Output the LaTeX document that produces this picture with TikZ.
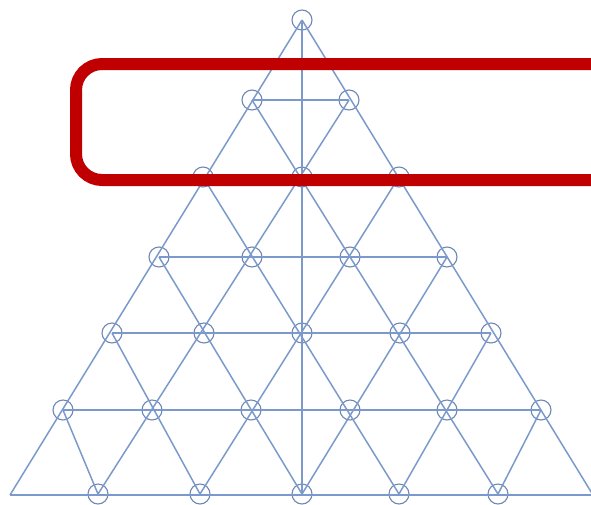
\documentclass[tikz,border=0pt]{standalone}
\usetikzlibrary{positioning}
\definecolor{bondcol}{HTML}{7B9ACB}
\definecolor{sitecol}{HTML}{6E87B5}
\definecolor{markcol}{HTML}{C00000}

\begin{document}
\begin{tikzpicture}[
    x=1pt, y=-1pt,
    site/.style={
        draw=sitecol,
        circle,
        line width=1.1pt,
        minimum size=20pt,
        inner sep=0pt
    },
    bond/.style={draw=bondcol, line width=1.5pt},
    highlight/.style={draw=markcol, line width=12pt, rounded corners=26pt}
]
\useasboundingbox (0,0) rectangle (591,504);
\clip (0,0) rectangle (591,504);

% lattice sites, row by row
\node[site] (n0-0) at (302,20) {};
\node[site] (n1-0) at (252,100) {}; \node[site] (n1-1) at (349,100) {};
\node[site] (n2-0) at (203,177) {}; \node[site] (n2-1) at (302,177) {}; \node[site] (n2-2) at (399,177) {};
\node[site] (n3-0) at (159,257) {}; \node[site] (n3-1) at (252,257) {}; \node[site] (n3-2) at (350,257) {};
\node[site] (n3-3) at (447,257) {};
\node[site] (n4-0) at (112,333) {}; \node[site] (n4-1) at (204,333) {}; \node[site] (n4-2) at (302,333) {};
\node[site] (n4-3) at (400,333) {}; \node[site] (n4-4) at (491,333) {};
\node[site] (n5-0) at (63,410) {}; \node[site] (n5-1) at (152,410) {}; \node[site] (n5-2) at (251,410) {};
\node[site] (n5-3) at (350,410) {}; \node[site] (n5-4) at (447,410) {}; \node[site] (n5-5) at (541,410) {};
\coordinate (n6-0) at (10,495);
\node[site] (n6-1) at (98,494) {}; \node[site] (n6-2) at (200,494) {}; \node[site] (n6-3) at (302,494) {};
\node[site] (n6-4) at (399,494) {}; \node[site] (n6-5) at (498,494) {};
\coordinate (n6-6) at (593,495);

% rows
\draw[bond] (n1-0.center) -- (n1-1.center)  (n2-0.center) -- (n2-2.center)
    (n3-0.center) -- (n3-3.center)  (n4-0.center) -- (n4-4.center)
    (n5-0.center) -- (n5-5.center)  (n6-0) -- (n6-6);
% parallel to the left side
\draw[bond] (n0-0.center) -- (n6-0)  (n1-1.center) -- (n6-1.center)
    (n2-2.center) -- (n6-2.center)  (n3-3.center) -- (n6-3.center)
    (n4-4.center) -- (n6-4.center)  (n5-5.center) -- (n6-5.center);
% parallel to the right side
\draw[bond] (n0-0.center) -- (n6-6)  (n1-0.center) -- (n6-5.center)
    (n2-0.center) -- (n6-4.center)  (n3-0.center) -- (n6-3.center)
    (n4-0.center) -- (n6-2.center)  (n5-0.center) -- (n6-1.center);
% axis
\draw[bond] (n0-0.center) -- (n6-3.center);

\draw[highlight] (76,64) rectangle (650,180);

\end{tikzpicture}
\end{document}
